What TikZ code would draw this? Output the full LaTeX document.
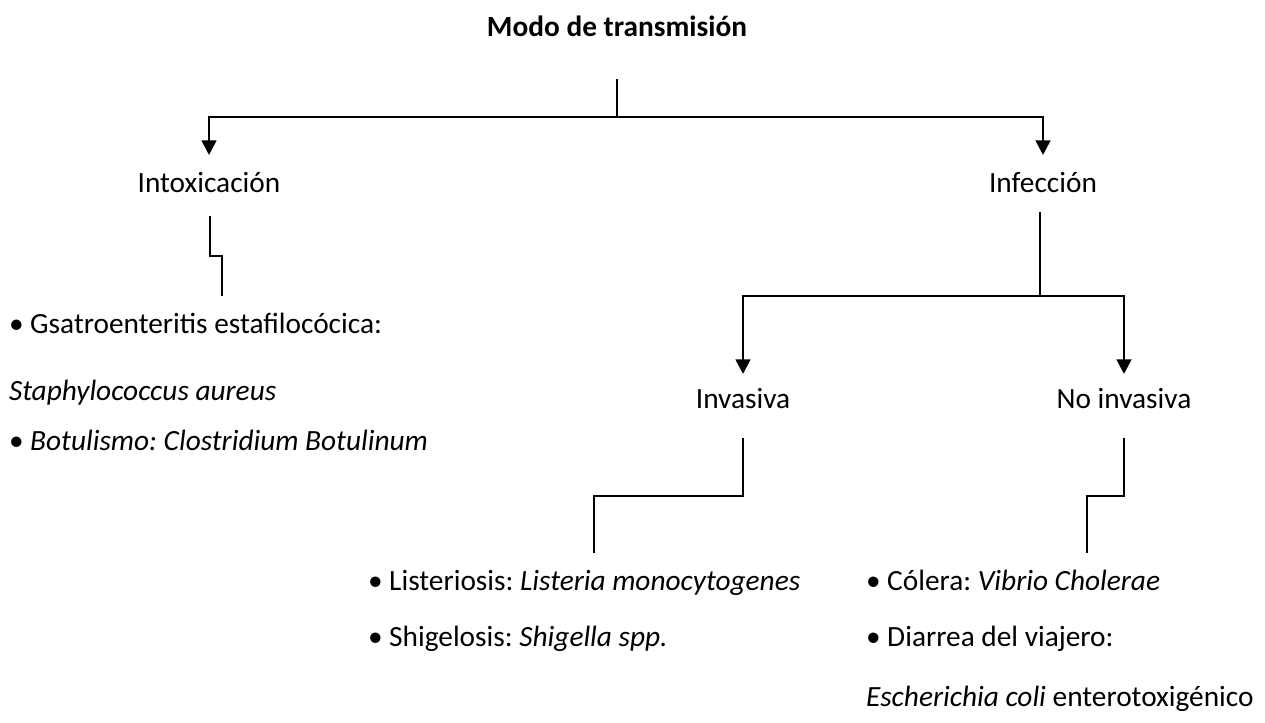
\documentclass[tikz,border=0pt]{standalone}
\usepackage{fontspec}
\setmainfont{Carlito}
\usetikzlibrary{arrows.meta}
\begin{document}
\frenchspacing
\begin{tikzpicture}[x=0.75pt,y=-0.75pt,
  every node/.style={inner sep=0pt,outer sep=0pt,font=\fontsize{22pt}{26pt}\selectfont},
  head/.style={anchor=base},
  item/.style={anchor=base west},
  branch/.style={line width=2pt,-{Triangle[width=11pt,length=11pt]}},
  link/.style={line width=1.6pt}]
\useasboundingbox (0,0) rectangle (1265,723);

% headings
\node[head,font=\fontsize{22pt}{26pt}\selectfont\bfseries] (title) at (617,37) {Modo de transmisión};
\node[head] (intox) at (209,193) {Intoxicación};
\node[head] (infec) at (1043,193) {Infección};
\node[head] (inv) at (743,409) {Invasiva};
\node[head] (noinv) at (1124,409) {No invasiva};

% lists
\node[item] (gastro) at (9,334) {• Gsatroenteritis estafilocócica:};
\node[item] (staph) at (9,401) {\itshape Staphylococcus aureus};
\node[item] (botu) at (9,451) {• \itshape Botulismo: Clostridium Botulinum};
\node[item] (list) at (368,591) {• Listeriosis: \textit{Listeria monocytogenes}};
\node[item] (shig) at (368,647) {• Shigelosis: \textit{Shigella spp.}};
\node[item] (cole) at (866,591) {• Cólera: \textit{Vibrio Cholerae}};
\node[item] (diar) at (866,647) {• Diarrea del viajero:};
\node[item] (ecoli) at (866,706) {\textit{Escherichia coli} enterotoxigénico};

% connector end points
\coordinate (root) at (617,79);
\coordinate (rootj) at (617,117);
\coordinate (intoxtip) at (209,155);
\coordinate (infectip) at (1043,155);
\coordinate (infecs) at (1040,212);
\coordinate (infecj) at (1040,296);
\coordinate (invtip) at (743,374);
\coordinate (noinvtip) at (1124,374);
\coordinate (intoxs) at (210,216);
\coordinate (intoxe) at (222,296);
\coordinate (invs) at (743,438);
\coordinate (inve) at (594,553);
\coordinate (noinvs) at (1124,438);
\coordinate (noinve) at (1087,553);

% first split
\draw[line width=2pt] (root) -- (rootj);
\draw[branch] (rootj) -| (intoxtip);
\draw[branch] (rootj) -| (infectip);

% second split
\draw[line width=2pt] (infecs) -- (infecj);
\draw[branch] (infecj) -| (invtip);
\draw[branch] (infecj) -| (noinvtip);

% stepped links to the lists
\draw[link] (intoxs) |- (222,256) -- (intoxe);
\draw[link] (invs) |- (594,496) -- (inve);
\draw[link] (noinvs) |- (1087,496) -- (noinve);
\end{tikzpicture}
\end{document}
